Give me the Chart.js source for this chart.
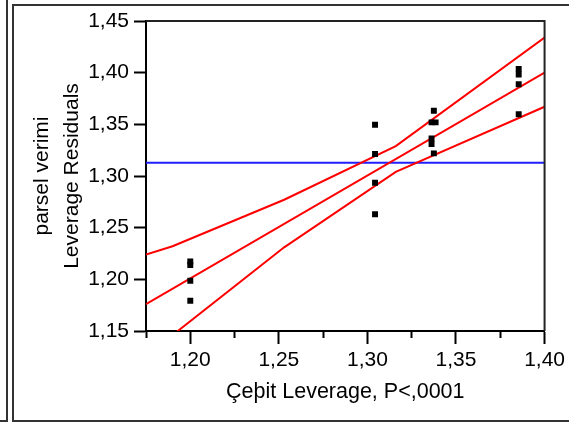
<!DOCTYPE html>
<html>
<head>
<meta charset="utf-8">
<script src="https://cdn.jsdelivr.net/npm/chart.js@4.4.0/dist/chart.umd.min.js"></script>
<style>
  html, body { margin:0; padding:0; background:#fff; }
  canvas { display:block; }
</style>
</head>
<body>
<canvas id="grafica" width="569" height="423"></canvas>
<script>
// puntos (leverage x, residuo y)
var puntosX = [1.20, 1.20, 1.20, 1.20,
               1.3043, 1.3043, 1.3043, 1.3043,
               1.3375, 1.3362, 1.3385, 1.3362, 1.3362, 1.3375,
               1.3854, 1.3854, 1.3854, 1.3854];
var puntosY = [1.2172, 1.2138, 1.1986, 1.1792,
               1.3496, 1.3213, 1.2935, 1.2629,
               1.3632, 1.3519, 1.3519, 1.3363, 1.3309, 1.3219,
               1.4035, 1.3982, 1.3887, 1.3597];
// recta de ajuste y bandas de confianza
var ajusteX = [1.175, 1.40];
var ajusteY = [1.176, 1.400];
var bandaX = [1.175, 1.19, 1.253, 1.316, 1.40];
var bandaSup = [1.224, 1.232, 1.277, 1.329, 1.434];
var bandaInf = [1.127, 1.146, 1.231, 1.304, 1.367];
var media = 1.3128;
var ejeX = [1.175, 1.40];
var ejeY = [1.15, 1.45];

function pares(xs, ys) {
    var out = [];
    for (var i = 0; i < xs.length; i++) {
        out.push({x: xs[i], y: ys[i]});
    }
    return out;
}
function coma(v) {
    return v.toFixed(2).replace('.', ',');
}
var fuente = 'Arial, "Liberation Sans", sans-serif';

var marco = {
    id: 'marco',
    afterDraw: function (chart) {
        var ctx = chart.ctx, a = chart.chartArea;
        ctx.save();
        ctx.strokeStyle = '#333';
        ctx.lineWidth = 2;
        ctx.beginPath();
        // panel izquierdo
        ctx.moveTo(7, 0); ctx.lineTo(7, 421); ctx.lineTo(0, 421);
        // marco principal
        ctx.moveTo(569, 5); ctx.lineTo(13, 5); ctx.lineTo(13, 421); ctx.lineTo(569, 421);
        ctx.stroke();
        // caja del grafico (arriba y derecha)
        ctx.strokeStyle = '#222';
        ctx.beginPath();
        ctx.moveTo(a.left, a.top); ctx.lineTo(a.right, a.top); ctx.lineTo(a.right, a.bottom);
        ctx.stroke();
        ctx.restore();
    }
};

var datos = {
    type: 'scatter',
    data: {
        datasets: [{
            data: pares(puntosX, puntosY),
            pointStyle: 'rect',
            pointRadius: 4.2,
            pointBorderWidth: 0,
            backgroundColor: '#000'
        }, {
            data: pares(ajusteX, ajusteY),
            showLine: true, pointRadius: 0, borderColor: '#ff0000', borderWidth: 2
        }, {
            data: pares(bandaX, bandaSup),
            showLine: true, pointRadius: 0, borderColor: '#ff0000', borderWidth: 2
        }, {
            data: pares(bandaX, bandaInf),
            showLine: true, pointRadius: 0, borderColor: '#ff0000', borderWidth: 2
        }, {
            data: pares(ejeX, [media, media]),
            showLine: true, pointRadius: 0, borderColor: '#1f1fff', borderWidth: 2
        }]
    },
    options: {
        responsive: false,
        animation: false,
        devicePixelRatio: 1,
        layout: {padding: {left: 0, top: 21, right: 23, bottom: 0}},
        plugins: {legend: {display: false}, tooltip: {enabled: false}},
        scales: {
            x: {
                type: 'linear',
                min: ejeX[0], max: ejeX[1],
                afterFit: function (s) { s.height = 92; },
                border: {display: true, color: '#000', width: 2},
                grid: {
                    drawOnChartArea: false, drawTicks: true, tickLength: 13,
                    tickColor: '#000', tickWidth: 2,
                    tickBorderDash: function (c) {
                        var v = Math.round(c.tick.value * 1000);
                        return (v % 50 === 0) ? [] : [6, 40];
                    }
                },
                ticks: {
                    stepSize: 0.025, autoSkip: false, maxRotation: 0,
                    padding: 4, color: '#000',
                    font: {family: fuente, size: 21},
                    callback: function (v) {
                        return (Math.round(v * 1000) % 50 === 0) ? coma(v) : '';
                    }
                },
                title: {
                    display: true, text: 'Çeþit Leverage, P<,0001', color: '#000',
                    font: {family: fuente, size: 21.5}, padding: {top: 0, bottom: 18}
                }
            },
            y: {
                type: 'linear',
                min: ejeY[0], max: ejeY[1],
                afterFit: function (s) { s.width = 146; },
                border: {display: true, color: '#000', width: 2},
                grid: {
                    drawOnChartArea: false, drawTicks: true, tickLength: 12,
                    tickColor: '#000', tickWidth: 2
                },
                ticks: {
                    stepSize: 0.05, padding: 5, color: '#000',
                    font: {family: fuente, size: 21},
                    callback: function (v) { return coma(v); }
                },
                title: {
                    display: true, text: ['parsel verimi', 'Leverage Residuals'], color: '#000',
                    font: {family: fuente, size: 21, lineHeight: '30px'},
                    padding: {top: 27, bottom: 0}
                }
            }
        }
    },
    plugins: [marco]
};

var canvas = document.getElementById('grafica').getContext('2d');
window.grafica = new Chart(canvas, datos);
</script>
</body>
</html>
